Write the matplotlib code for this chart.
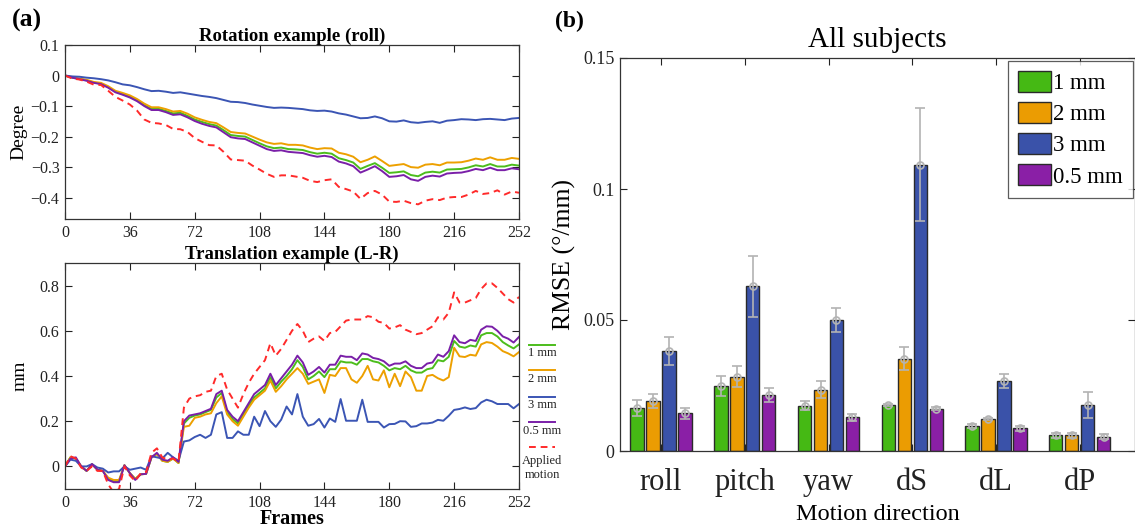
import numpy as np
import matplotlib
matplotlib.use("Agg")
import matplotlib.pyplot as plt
from matplotlib.lines import Line2D
from matplotlib.ticker import FuncFormatter, FixedLocator

plt.rcParams['font.family'] = ['Liberation Serif', 'DejaVu Serif']
plt.rcParams['mathtext.fontset'] = 'stix'

# ---------------- data ----------------
series_labels = ['1 mm', '2 mm', '3 mm', '0.5 mm']
applied_label = 'Applied\nmotion'

# Rotation example (roll), frames every 4
rot_frames = list(range(0, 253, 4))
rot_1mm = [0, -0.007, -0.011, -0.016, -0.023, -0.027, -0.038, -0.053, -0.061, -0.069, -0.081, -0.097, -0.109,
           -0.109, -0.116, -0.124, -0.122, -0.132, -0.144, -0.152, -0.159, -0.164, -0.179, -0.195, -0.198, -0.2,
           -0.211, -0.222, -0.232, -0.238, -0.236, -0.241, -0.242, -0.244, -0.251, -0.256, -0.253, -0.256, -0.271,
           -0.277, -0.285, -0.306, -0.296, -0.287, -0.302, -0.319, -0.317, -0.314, -0.326, -0.33, -0.318, -0.315,
           -0.318, -0.308, -0.307, -0.306, -0.301, -0.294, -0.298, -0.29, -0.298, -0.298, -0.292, -0.295]
rot_2mm = [0, -0.006, -0.01, -0.014, -0.021, -0.024, -0.035, -0.05, -0.057, -0.065, -0.077, -0.092, -0.104,
           -0.104, -0.11, -0.118, -0.116, -0.125, -0.137, -0.145, -0.152, -0.156, -0.17, -0.185, -0.188, -0.19,
           -0.2, -0.21, -0.219, -0.224, -0.222, -0.227, -0.227, -0.229, -0.236, -0.241, -0.238, -0.239, -0.253,
           -0.258, -0.266, -0.284, -0.276, -0.265, -0.28, -0.296, -0.293, -0.29, -0.3, -0.302, -0.292, -0.29,
           -0.294, -0.285, -0.285, -0.284, -0.279, -0.272, -0.276, -0.268, -0.276, -0.276, -0.27, -0.273]
rot_3mm = [0, -0.003, -0.004, -0.007, -0.009, -0.012, -0.016, -0.022, -0.029, -0.032, -0.038, -0.045, -0.051,
           -0.05, -0.053, -0.057, -0.055, -0.059, -0.063, -0.067, -0.07, -0.074, -0.08, -0.086, -0.087, -0.09,
           -0.095, -0.099, -0.103, -0.106, -0.105, -0.106, -0.108, -0.11, -0.114, -0.116, -0.115, -0.118, -0.124,
           -0.128, -0.134, -0.14, -0.139, -0.134, -0.14, -0.15, -0.151, -0.147, -0.153, -0.155, -0.152, -0.15,
           -0.155, -0.148, -0.146, -0.143, -0.144, -0.146, -0.143, -0.142, -0.144, -0.146, -0.141, -0.139]
rot_05mm = [0, -0.007, -0.012, -0.017, -0.024, -0.028, -0.04, -0.055, -0.063, -0.072, -0.084, -0.1, -0.113,
            -0.113, -0.12, -0.129, -0.127, -0.137, -0.149, -0.158, -0.165, -0.17, -0.186, -0.202, -0.206, -0.208,
            -0.219, -0.23, -0.241, -0.247, -0.245, -0.25, -0.252, -0.254, -0.261, -0.266, -0.263, -0.267, -0.282,
            -0.288, -0.297, -0.318, -0.308, -0.297, -0.313, -0.332, -0.33, -0.326, -0.34, -0.345, -0.332, -0.328,
            -0.331, -0.321, -0.319, -0.318, -0.313, -0.306, -0.31, -0.302, -0.31, -0.31, -0.304, -0.307]
rot_applied = [0, -0.01, -0.013, -0.02, -0.03, -0.031, -0.05, -0.07, -0.082, -0.095, -0.115, -0.144, -0.155,
               -0.157, -0.162, -0.175, -0.176, -0.185, -0.205, -0.217, -0.228, -0.229, -0.25, -0.275, -0.277, -0.279,
               -0.295, -0.308, -0.322, -0.332, -0.327, -0.327, -0.331, -0.335, -0.345, -0.349, -0.343, -0.34, -0.365,
               -0.372, -0.38, -0.404, -0.385, -0.378, -0.39, -0.413, -0.414, -0.41, -0.418, -0.422, -0.41, -0.405,
               -0.408, -0.4, -0.398, -0.398, -0.39, -0.378, -0.388, -0.385, -0.376, -0.39, -0.38, -0.384]

# Translation example (L-R), frames every 3
tr_frames = list(range(0, 253, 3))
tr_1mm = [0, 0.04, 0.035, 0.0, -0.02, 0.01, -0.015, -0.02, -0.055, -0.065, -0.065, 0.005, -0.03, -0.055, -0.035,
          -0.033, 0.04, 0.055, 0.025, 0.02, 0.035, 0.015, 0.19, 0.215, 0.225, 0.23, 0.24, 0.25, 0.305, 0.325,
          0.24, 0.21, 0.19, 0.23, 0.27, 0.305, 0.325, 0.345, 0.395, 0.345, 0.375, 0.4, 0.43, 0.47, 0.44, 0.385,
          0.4, 0.42, 0.395, 0.43, 0.43, 0.465, 0.46, 0.46, 0.45, 0.475, 0.475, 0.465, 0.46, 0.445, 0.425, 0.435,
          0.43, 0.445, 0.425, 0.415, 0.415, 0.43, 0.435, 0.47, 0.465, 0.485, 0.555, 0.53, 0.525, 0.535, 0.53,
          0.58, 0.59, 0.59, 0.575, 0.55, 0.535, 0.522, 0.54]
tr_2mm = [0, 0.04, 0.035, 0.0, -0.02, 0.01, -0.015, -0.02, -0.05, -0.06, -0.06, 0.005, -0.03, -0.055, -0.035,
          -0.033, 0.04, 0.055, 0.025, 0.02, 0.035, 0.015, 0.175, 0.18, 0.215, 0.22, 0.23, 0.235, 0.28, 0.31,
          0.23, 0.2, 0.18, 0.22, 0.26, 0.295, 0.315, 0.335, 0.38, 0.33, 0.355, 0.385, 0.41, 0.435, 0.41, 0.365,
          0.375, 0.385, 0.325, 0.405, 0.4, 0.435, 0.435, 0.385, 0.37, 0.4, 0.445, 0.385, 0.38, 0.425, 0.35, 0.41,
          0.355, 0.42, 0.395, 0.335, 0.335, 0.4, 0.405, 0.39, 0.38, 0.395, 0.525, 0.487, 0.484, 0.494, 0.49,
          0.54, 0.55, 0.546, 0.53, 0.51, 0.5, 0.487, 0.506]
tr_3mm = [0, 0.03, 0.025, 0.0, 0.0, 0.01, -0.005, -0.01, -0.027, -0.022, -0.022, 0.0, -0.015, -0.01, -0.005,
          -0.015, 0.045, 0.04, 0.035, 0.06, 0.04, 0.025, 0.11, 0.115, 0.13, 0.14, 0.126, 0.14, 0.23, 0.24,
          0.126, 0.126, 0.155, 0.14, 0.14, 0.22, 0.178, 0.245, 0.2, 0.175, 0.207, 0.265, 0.23, 0.32, 0.22, 0.18,
          0.187, 0.21, 0.172, 0.212, 0.197, 0.298, 0.202, 0.202, 0.202, 0.295, 0.197, 0.197, 0.197, 0.172, 0.187,
          0.188, 0.2, 0.199, 0.175, 0.178, 0.19, 0.19, 0.194, 0.206, 0.202, 0.224, 0.25, 0.254, 0.261, 0.254,
          0.258, 0.283, 0.295, 0.288, 0.276, 0.276, 0.276, 0.257, 0.276]
tr_05mm = [0, 0.035, 0.04, 0.0, -0.02, 0.01, -0.015, -0.02, -0.06, -0.07, -0.07, 0.005, -0.03, -0.06, -0.035,
           -0.033, 0.04, 0.06, 0.03, 0.025, 0.04, 0.02, 0.2, 0.225, 0.23, 0.235, 0.245, 0.255, 0.32, 0.335,
           0.25, 0.22, 0.2, 0.24, 0.28, 0.32, 0.34, 0.36, 0.41, 0.36, 0.39, 0.42, 0.45, 0.49, 0.46, 0.405,
           0.42, 0.44, 0.415, 0.45, 0.45, 0.49, 0.485, 0.485, 0.47, 0.5, 0.495, 0.48, 0.475, 0.465, 0.445, 0.455,
           0.455, 0.465, 0.445, 0.435, 0.435, 0.455, 0.46, 0.495, 0.485, 0.51, 0.58, 0.55, 0.545, 0.56, 0.555,
           0.605, 0.62, 0.618, 0.6, 0.575, 0.565, 0.548, 0.573]
tr_applied = [0, 0.045, 0.035, -0.005, -0.02, 0.0, -0.02, -0.02, -0.08, -0.115, -0.1, 0.0, -0.04, -0.065, -0.03,
              -0.025, 0.06, 0.08, 0.04, 0.03, 0.035, 0.02, 0.26, 0.3, 0.31, 0.315, 0.33, 0.335, 0.4, 0.41,
              0.34, 0.3, 0.26, 0.32, 0.37, 0.41, 0.44, 0.47, 0.545, 0.49, 0.52, 0.56, 0.6, 0.63, 0.6, 0.55,
              0.565, 0.575, 0.555, 0.59, 0.595, 0.62, 0.645, 0.65, 0.65, 0.65, 0.665, 0.66, 0.64, 0.635, 0.61, 0.615,
              0.625, 0.605, 0.595, 0.585, 0.59, 0.605, 0.62, 0.66, 0.65, 0.68, 0.77, 0.725, 0.725, 0.735, 0.745,
              0.785, 0.81, 0.81, 0.79, 0.765, 0.74, 0.725, 0.75]

# Bar chart (b)
directions = ['roll', 'pitch', 'yaw', 'dS', 'dL', 'dP']
rmse_1mm = [0.0164, 0.0248, 0.0173, 0.0175, 0.0095, 0.0060]
rmse_2mm = [0.0190, 0.0283, 0.0234, 0.0352, 0.0122, 0.0060]
rmse_3mm = [0.0383, 0.0629, 0.0501, 0.1093, 0.0266, 0.0176]
rmse_05mm = [0.0144, 0.0214, 0.0128, 0.0162, 0.0087, 0.0055]
err_1mm = [0.0029, 0.0037, 0.0017, 0.0005, 0.0008, 0.0010]
err_2mm = [0.0026, 0.0040, 0.0032, 0.0044, 0.0005, 0.0010]
err_3mm = [0.0053, 0.0116, 0.0046, 0.0216, 0.0027, 0.0049]
err_05mm = [0.0021, 0.0028, 0.0013, 0.0007, 0.0009, 0.0010]

line_colors = ['#4cbd1c', '#eda000', '#3b55b4', '#7a1fa8']
applied_color = '#ff2a2a'
bar_colors = ['#45b914', '#eb9c02', '#3a52a9', '#8a1fa6']

# ---------------- figure ----------------
W, H = 1135, 528
fig = plt.figure(figsize=(W / 100, H / 100), dpi=100)


def px_axes(left, top, right, bottom):
    return fig.add_axes([left / W, 1 - bottom / H, (right - left) / W, (bottom - top) / H])


def fmt(v, p):
    s = '%g' % round(v, 4)
    return s.replace('-', '\u2212')


def style_axes(ax, labelsize):
    ax.tick_params(direction='in', top=True, right=True, length=5, width=0.8,
                   labelsize=labelsize, colors='#222222', pad=4)
    for sp in ax.spines.values():
        sp.set_linewidth(0.9)
        sp.set_color('#333333')


# --- Rotation example
ax1 = px_axes(65, 45, 519, 219)
series_rot = [rot_1mm, rot_2mm, rot_3mm, rot_05mm]
for vals, c in zip(series_rot, line_colors):
    ax1.plot(rot_frames, vals, color=c, lw=1.4)
ax1.plot(rot_frames, rot_applied, color=applied_color, lw=1.4, ls=(0, (3.5, 2.5)))
ax1.set_xlim(0, 252)
ax1.set_ylim(-0.47, 0.1)
ax1.xaxis.set_major_locator(FixedLocator(list(range(0, 253, 36))))
ax1.yaxis.set_major_locator(FixedLocator([0.1, 0, -0.1, -0.2, -0.3, -0.4]))
ax1.yaxis.set_major_formatter(FuncFormatter(fmt))
style_axes(ax1, 11.5)
ax1.set_title('Rotation example (roll)', fontsize=13.5, fontweight='bold', pad=3)
ax1.set_ylabel('Degree', fontsize=14, labelpad=2)

# --- Translation example
ax2 = px_axes(65, 263, 519, 489)
series_tr = [tr_1mm, tr_2mm, tr_3mm, tr_05mm]
for vals, c in zip(series_tr, line_colors):
    ax2.plot(tr_frames, vals, color=c, lw=1.4)
ax2.plot(tr_frames, tr_applied, color=applied_color, lw=1.4, ls=(0, (3.5, 2.5)))
ax2.set_xlim(0, 252)
ax2.set_ylim(-0.1, 0.9)
ax2.xaxis.set_major_locator(FixedLocator(list(range(0, 253, 36))))
ax2.yaxis.set_major_locator(FixedLocator([0, 0.2, 0.4, 0.6, 0.8]))
ax2.yaxis.set_major_formatter(FuncFormatter(fmt))
style_axes(ax2, 11.5)
ax2.set_title('Translation example (L-R)', fontsize=13.5, fontweight='bold', pad=3)
ax2.set_ylabel('mm', fontsize=14, labelpad=8)
ax2.set_xlabel('Frames', fontsize=14.5, fontweight='bold', labelpad=-1)

# custom legend for (a): line above label
leg_line_y = [345, 370, 397, 422, 447]
leg_text_y = [353, 379, 405, 431, 468]
leg_colors = line_colors + [applied_color]
leg_labels = series_labels + [applied_label]
for i in range(5):
    ls = '-' if i < 4 else (0, (3.5, 2.5))
    fig.add_artist(Line2D([529 / W, 555 / W], [1 - leg_line_y[i] / H] * 2,
                          transform=fig.transFigure, color=leg_colors[i], lw=1.4, ls=ls))
    fig.text(542 / W, 1 - leg_text_y[i] / H, leg_labels[i], ha='center', va='center',
             fontsize=9, color='#222222', linespacing=1.15)

# --- Bar chart
ax3 = px_axes(620, 58, 1135, 451)
x = np.arange(1, len(directions) + 1)
offsets = [-0.286, -0.095, 0.095, 0.286]
bar_w = 0.16
rmse_all = [rmse_1mm, rmse_2mm, rmse_3mm, rmse_05mm]
err_all = [err_1mm, err_2mm, err_3mm, err_05mm]
for vals, errs, off, c, lab in zip(rmse_all, err_all, offsets, bar_colors, series_labels):
    ax3.bar(x + off, vals, width=bar_w, color=c, edgecolor='#2a2a2a', linewidth=1.0, label=lab, zorder=2)
    ax3.errorbar(x + off, vals, yerr=errs, fmt='o', mfc='none', mec='#b3b3b3', ms=5, mew=1.2,
                 ecolor='#b3b3b3', elinewidth=1.2, capsize=3.5, capthick=1.2, zorder=3)
ax3.set_xlim(0.51, 6.66)
ax3.set_ylim(0, 0.15)
ax3.set_xticks(x)
ax3.set_xticklabels(directions)
ax3.yaxis.set_major_locator(FixedLocator([0, 0.05, 0.1, 0.15]))
ax3.yaxis.set_major_formatter(FuncFormatter(fmt))
style_axes(ax3, 13)
ax3.tick_params(axis='x', labelsize=22, pad=12)
ax3.set_title('All subjects', fontsize=21, pad=8)
ax3.set_ylabel('RMSE (\u00b0/mm)', fontsize=18.5, labelpad=5)
ax3.set_xlabel('Motion direction', fontsize=17.5, labelpad=5)
leg = ax3.legend(loc='upper right', bbox_to_anchor=(0.997, 0.993), fontsize=16.5, frameon=True,
                 fancybox=False, edgecolor='#333333', handlelength=1.45, handleheight=1.0,
                 handletextpad=0.1, labelspacing=0.35, borderpad=0.45, borderaxespad=0.0)
leg.get_frame().set_linewidth(0.9)

# panel labels
fig.text(12 / W, 1 - 20 / H, '(a)', fontsize=18.5, fontweight='bold', va='center', ha='left')
fig.text(555 / W, 1 - 21 / H, '(b)', fontsize=17, fontweight='bold', va='center', ha='left')

fig.savefig('out.png', dpi=100)
